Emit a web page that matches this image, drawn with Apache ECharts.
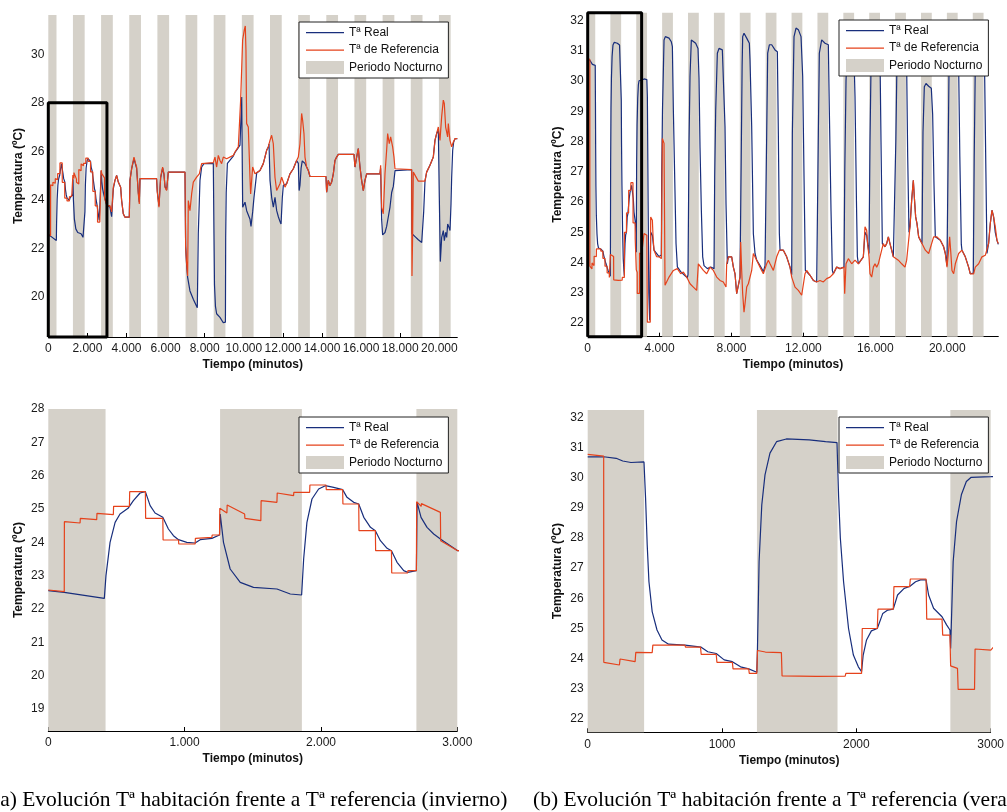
<!DOCTYPE html>
<html>
<head>
<meta charset="utf-8">
<script src="https://cdn.jsdelivr.net/npm/echarts@6/dist/echarts.min.js"></script>
<style>
html,body{margin:0;padding:0;background:#fff;}
#chart{width:1007px;height:812px;}
</style>
</head>
<body>
<div id="chart"></div>
<script>
// Night periods (minutes): 21:00 to 07:00 every day
const nights = [[-180,420],[1260,1860],[2700,3300],[4140,4740],[5580,6180],[7020,7620],[8460,9060],
  [9900,10500],[11340,11940],[12780,13380],[14220,14820],[15660,16260],[17100,17700],[18540,19140],
  [19980,20580],[21420,22020]];

// Tick values
const winterXTicks = [0,2000,4000,6000,8000,10000,12000,14000,16000,18000,20000];
const summerXTicks = [0,4000,8000,12000,16000,20000];
const detailXTicks = [0,1000,2000,3000];
const winterYTicks = [20,22,24,26,28,30];
const summerYTicks = [22,23,24,25,26,27,28,29,30,31,32];
const detailWinterYTicks = [19,20,21,22,23,24,25,26,27,28];

// Winter: reference temperature [minute, ºC]
const winterRef = [[0,22.57],[117,22.52],[118,24.62],[233,24.58],[235,24.72],[355,24.68],[357,24.87],[477,24.83],[479,25.08],[595,25.08],[597,25.52],[712,25.52],[714,24.72],[840,24.72],[842,24.07],[955,24.07],[957,23.95],[1077,23.95],[1079,24.12],[1200,24.15],[1202,24.22],[1256,24.22],[1258,25.02],[1310,24.88],[1312,25.12],[1440,24.85],[1442,24.72],[1559,24.65],[1561,25.25],[1677,25.2],[1679,25.48],[1799,25.4],[1801,25.5],[1917,25.5],[1919,25.72],[2037,25.72],[2039,25.58],[2159,25.58],[2161,25.15],[2277,25.15],[2279,24.35],[2399,24.35],[2401,23.75],[2517,23.75],[2519,23.08],[2636,23.08],[2638,23.15],[2700,23.15],[2702,25.22],[2735,25.08],[2737,25.16],[2876,24.9],[2878,24.05],[3003,23.75],
  [3154,23.76],[3240,23.5],[3325,24.52],[3410,24.8],[3495,25.0],[3580,24.73],[3700,24.52],[3751,23.97],[3836,23.42],[3921,23.28],[4143,23.28],[4177,24.8],[4263,25.28],[4382,25.76],[4467,25.49],[4518,25.35],[4604,24.24],[4655,23.83],[4689,24.87],[5541,24.87],[5575,24.31],[5661,23.69],[5746,24.93],[5848,25.35],[5916,25.07],[5968,24.52],[6053,24.38],[6138,25.14],[6991,25.14],[7025,22.04],[7076,21.35],[7127,20.86],[7161,23.97],[7246,23.55],[7332,24.24],[7417,24.73],[7587,24.93],[7724,25.07],[7843,25.49],[8440,25.53],[8525,25.76],[8610,25.35],[8696,25.83],[8781,25.62],[8866,25.49],[8951,25.76],[9122,25.69],[9463,25.83],[9548,25.97],[9719,26.18],[9804,26.25],[9838,28.11],[9940,30.59],[10025,31.01],[10076,31.17],[10110,30.18],[10145,27.14],[10230,27.0],[10315,24.93],[10349,24.24],[10452,25.35],[10571,25.07],[10656,25.14],[10827,25.21],[10997,25.49],[11082,25.76],[11168,26.04],[11253,26.18],[11338,26.45],[11424,26.66],[11509,26.31],[11594,24.93],[11679,24.38],[11765,24.31],[11850,24.66],[11935,24.93],[12020,24.73],[12106,24.52],[12191,24.66],[12361,25.07],[12532,25.28],[12702,25.62],[12788,25.76],[12873,26.31],[12958,27.56],[13009,27.28],[13077,26.73],[13129,25.76],[13214,25.35],[13299,25.21],[13384,24.96],[14203,24.96],[14237,24.31],[14322,24.8],[14407,24.59],[14493,24.73],[14578,25.07],[14663,25.62],[14748,25.76],[14834,25.87],[15635,25.87],[15686,25.35],[15771,25.76],[15857,26.11],[15942,25.35],[16027,24.8],[16112,24.38],[16198,24.8],[16283,25.07],[16965,25.07],[16999,25.42],[17050,23.69],[17135,23.42],[17221,25.07],[17306,26.04],[17357,26.73],[17442,26.31],[17510,26.59],[17613,26.18],[17681,25.76],[17732,25.28],[18585,25.24],[18602,20.86],[18636,22.59],[18670,25.14],[18755,25.07],[18926,24.77],[19267,24.77],[19352,25.14],[19522,25.42],[19693,25.76],[19778,26.45],[19863,26.73],[19949,27.0],[20034,26.45],[20119,27.42],[20204,28.11],[20255,27.97],[20324,27.0],[20426,26.59],[20460,27.14],[20545,26.45],[20631,26.18],[20716,26.38],[20801,26.52],[20920,26.52]];

// Winter: measured room temperature [minute, ºC]
const winterReal = [[0,22.55],[117,22.5],[411,22.32],[423,23.0],[453,24.0],[490,24.6],[526,24.85],[585,25.02],[597,25.08],[624,25.25],[673,25.48],[712,25.52],[747,25.1],[783,24.88],[840,24.75],[881,24.4],[918,24.2],[955,24.08],[1016,24.0],[1077,23.98],[1114,24.08],[1200,24.12],[1256,24.22],[1261,24.85],[1285,24.0],[1334,23.2],[1408,22.8],[1505,22.65],[1677,22.6],[1775,22.45],[1858,22.42],[1873,23.5],[1897,24.6],[1934,25.3],[1983,25.6],[2032,25.7],[2093,25.65],[2159,25.58],[2191,25.35],[2240,25.2],[2277,25.15],[2314,24.75],[2363,24.45],[2399,24.35],[2436,24.05],[2485,23.82],[2517,23.75],[2558,23.4],[2607,23.15],[2636,23.1],[2700,23.15],[2705,25.2],[2734,24.75],[2778,24.45],[2827,24.25],[2876,24.1],[2900,24.03],[3003,23.75],
  [3154,23.7],[3240,23.3],[3325,24.45],[3410,24.8],[3495,25.0],[3580,24.73],[3700,24.52],[3751,23.97],[3836,23.42],[3921,23.28],[4143,23.28],[4177,24.8],[4263,25.28],[4382,25.7],[4467,25.45],[4518,25.3],[4604,24.3],[4655,23.9],[4689,24.87],[5541,24.87],[5575,24.35],[5661,23.75],[5746,24.9],[5848,25.3],[5916,25.05],[5968,24.55],[6053,24.4],[6138,25.14],[6991,25.14],[7025,22.1],[7076,21.3],[7127,20.8],[7246,20.24],[7417,19.9],[7621,19.55],[7672,22.6],[7758,24.8],[7843,25.35],[7963,25.49],[8440,25.5],[8474,22.6],[8500,20.5],[8550,19.6],[8610,19.3],[8700,19.25],[8781,19.15],[8866,19.1],[8951,18.93],[9037,19.0],[9060,18.95],[9073,22.45],[9100,24.3],[9160,25.5],[9463,25.8],[9548,25.95],[9719,26.15],[9804,26.25],[9892,28.24],[9943,23.69],[10061,23.9],[10146,23.55],[10231,23.6],[10317,23.2],[10368,22.9],[10453,23.5],[10521,24.1],[10658,25.1],[10827,25.21],[10997,25.49],[11082,25.76],[11168,26.04],[11253,26.18],[11290,26.3],[11340,24.8],[11425,24.1],[11510,23.7],[11596,24.1],[11682,23.55],[11767,23.3],[11852,23.1],[11903,23.0],[11971,24.1],[12022,24.6],[12106,24.52],[12191,24.66],[12361,25.07],[12532,25.28],[12702,25.62],[12788,25.5],[12830,24.38],[12873,24.6],[12930,25.3],[12990,25.6],[13077,25.6],[13129,25.5],[13214,25.35],[13299,25.21],[13384,24.96],[14203,24.96],[14237,24.31],[14322,24.8],[14407,24.59],[14493,24.73],[14578,25.07],[14663,25.62],[14748,25.76],[14834,25.87],[15635,25.87],[15686,25.35],[15771,25.76],[15857,26.11],[15942,25.35],[16027,24.8],[16112,24.38],[16198,24.8],[16283,25.07],[16965,25.07],[16999,25.3],[17050,23.2],[17100,22.55],[17135,22.5],[17222,22.65],[17307,22.9],[17392,23.3],[17478,23.7],[17563,24.3],[17648,24.55],[17734,25.2],[18585,25.24],[18602,22.6],[18672,22.52],[18800,22.45],[18926,22.35],[19099,22.24],[19150,22.17],[19200,23.5],[19267,24.77],[19352,25.14],[19522,25.42],[19693,25.76],[19778,26.45],[19863,26.73],[19949,26.9],[20000,24.1],[20052,21.45],[20121,22.45],[20206,22.73],[20257,22.31],[20326,22.66],[20377,22.45],[20428,23.0],[20496,22.86],[20547,22.73],[20598,23.83],[20632,24.93],[20683,26.03],[20734,26.38],[20803,26.52],[20920,26.52]];

// Summer: reference temperature [minute, ºC]
const summerRef = [[0,30.77],[119,30.71],[120,23.88],[236,23.79],[241,23.99],[353,23.9],[358,24.21],[480,24.2],[485,24.45],[724,24.45],[728,24.38],[840,24.38],[845,24.14],[957,24.14],[962,23.88],[1077,23.88],[1082,23.66],[1199,23.66],[1203,23.51],[1259,23.51],[1264,24.27],[1323,24.22],[1442,24.2],[1447,23.43],[1700,23.41],[1917,23.42],[1922,23.51],[2039,23.51],[2044,25.0],[2156,25.0],[2161,25.64],[2275,25.64],[2280,26.39],[2397,26.39],[2402,26.64],[2519,26.64],[2524,25.31],[2638,25.31],[2643,24.78],[2697,24.78],[2702,23.76],[2753,23.68],[2758,22.98],[2880,22.98],[2884,24.32],[3001,24.28],
  [3133,24.96],[3290,24.9],[3319,22.03],[3480,22.03],[3504,25.51],[3597,25.4],[3640,24.8],[3689,24.41],[3830,24.2],[3968,24.19],[4097,24.13],[4153,28.1],[4246,27.94],[4301,23.25],[4394,23.19],[4524,23.52],[4765,23.74],[4987,23.8],[5043,23.85],[5173,23.63],[5321,23.69],[5506,23.52],[5692,23.3],[5877,23.19],[6063,23.08],[6155,23.96],[6248,24.02],[6433,23.74],[6619,23.63],[6804,23.85],[6990,23.74],[7175,23.52],[7360,23.41],[7546,23.36],[7694,23.19],[7731,23.96],[7824,24.19],[8009,24.19],[8102,23.85],[8195,23.63],[8287,22.97],[8380,22.97],[8473,23.52],[8510,24.68],[8565,23.74],[8621,22.97],[8695,22.36],[8751,22.64],[8844,23.19],[8936,23.3],[9122,23.74],[9214,24.3],[9307,24.3],[9400,24.08],[9585,23.85],[9771,23.63],[9957,23.96],[10049,24.08],[10142,23.96],[10327,23.74],[10513,24.19],[10661,24.41],[10883,24.41],[11068,24.19],[11254,23.85],[11347,23.52],[11532,23.19],[11718,23.08],[11903,22.92],[12088,23.63],[12181,23.74],[12366,23.58],[12552,23.41],[12737,23.36],[12922,23.41],[13108,23.36],[13293,23.47],[13478,23.52],[13664,23.63],[13849,23.85],[14034,23.8],[14257,23.85],[14295,22.97],[14369,23.96],[14499,24.13],[14684,23.96],[14869,24.08],[15055,23.96],[15333,24.19],[15425,25.18],[15518,25.07],[15574,24.63],[15648,24.19],[15703,23.63],[15796,23.52],[15889,23.85],[15981,23.96],[16074,23.85],[16167,23.96],[16260,24.19],[16352,24.41],[16445,24.63],[16537,24.52],[16630,24.63],[16723,24.85],[16815,24.63],[16908,24.41],[17001,24.19],[17094,24.19],[17279,24.08],[17465,23.96],[17650,23.85],[17742,24.08],[17835,24.63],[17928,25.18],[18021,26.06],[18113,26.72],[18169,26.17],[18243,25.51],[18317,25.29],[18410,24.85],[18595,24.63],[18781,24.41],[18966,24.3],[19244,24.85],[19429,24.85],[19614,24.74],[19800,24.52],[19893,24.3],[19985,23.85],[20078,24.41],[20134,24.85],[20189,24.41],[20263,23.74],[20356,23.63],[20449,23.96],[20634,24.3],[20819,24.41],[21004,24.19],[21189,23.85],[21282,23.63],[21375,23.58],[21467,23.63],[21560,23.85],[21746,23.96],[21931,24.19],[22116,24.24],[22301,24.63],[22394,25.29],[22487,25.73],[22579,25.51],[22672,25.18],[22765,24.74],[22840,24.63]];

// Summer: measured room temperature [minute, ºC]
const summerReal = [[0,30.69],[119,30.69],[212,30.64],[261,30.55],[322,30.5],[419,30.52],[431,29.31],[443,27.77],[456,26.55],[480,25.56],[516,24.95],[553,24.62],[602,24.48],[724,24.45],[845,24.38],[894,24.23],[957,24.17],[1016,23.96],[1077,23.9],[1138,23.73],[1199,23.66],[1259,23.55],[1264,24.34],[1276,27.22],[1296,29.09],[1320,30.09],[1357,30.81],[1406,31.19],[1479,31.28],[1649,31.25],[1771,31.19],[1856,31.16],[1868,29.37],[1881,27.99],[1905,26.55],[1942,25.0],[1978,24.12],[2015,23.73],[2039,23.57],[2051,24.12],[2076,24.62],[2112,24.92],[2156,25.0],[2197,25.5],[2234,25.61],[2275,25.64],[2307,26.11],[2356,26.33],[2397,26.39],[2441,26.55],[2478,26.61],[2519,26.61],[2538,26.11],[2575,25.67],[2638,25.39],[2672,25.12],[2697,24.95],[2702,24.34],[2721,27.22],[2746,28.54],[2782,29.43],[2819,29.87],[2855,30.01],[3001,30.03],
  [3133,30.07],[3290,30.05],[3319,29.5],[3360,26.0],[3400,23.0],[3448,22.09],[3504,25.0],[3597,24.9],[3689,24.41],[3968,24.2],[4097,24.25],[4115,26.83],[4160,29.04],[4246,31.36],[4320,31.47],[4524,31.42],[4650,31.3],[4710,31.14],[4765,29.04],[4839,26.83],[4913,24.63],[4987,23.86],[5173,23.7],[5358,23.6],[5543,23.5],[5580,23.6],[5636,27.94],[5691,30.15],[5765,31.36],[5821,31.42],[6006,31.25],[6136,31.08],[6192,30.1],[6248,27.8],[6322,25.73],[6396,24.19],[6470,23.9],[6656,23.8],[6841,23.85],[7027,23.8],[7064,26.83],[7120,29.04],[7212,30.92],[7305,31.08],[7490,31.03],[7583,31.08],[7638,28.49],[7694,25.94],[7768,23.96],[7824,24.19],[8009,24.19],[8102,23.85],[8195,23.63],[8287,22.97],[8380,22.97],[8473,23.52],[8540,27.5],[8590,30.5],[8621,31.47],[8695,31.58],[8844,31.42],[8992,31.25],[9029,30.7],[9122,28.49],[9214,24.96],[9307,24.3],[9400,24.08],[9585,23.9],[9771,23.7],[9864,23.9],[9957,28.27],[10012,30.92],[10105,31.2],[10235,31.2],[10420,31.03],[10550,30.97],[10605,28.27],[10661,24.96],[10700,24.41],[10883,24.41],[11068,24.19],[11254,23.85],[11347,23.6],[11384,28.27],[11477,31.47],[11588,31.75],[11718,31.7],[11866,31.47],[11959,30.15],[12033,26.83],[12107,23.74],[12181,23.74],[12366,23.58],[12552,23.41],[12737,23.36],[12774,23.4],[12830,28.27],[12885,30.92],[13015,31.36],[13200,31.25],[13386,31.2],[13441,29.04],[13534,25.73],[13608,23.74],[13664,23.63],[13849,23.85],[14034,23.8],[14257,23.85],[14300,27.0],[14369,30.0],[14450,31.2],[14600,31.3],[14800,31.1],[14869,29.5],[14950,26.0],[15000,24.2],[15055,23.96],[15333,24.19],[15425,25.0],[15518,24.9],[15574,24.6],[15648,24.3],[15703,28.0],[15760,30.5],[15850,31.2],[16100,31.1],[16260,30.8],[16315,28.0],[16389,24.63],[16445,24.63],[16537,24.52],[16630,24.63],[16723,24.85],[16815,24.63],[16908,24.41],[17001,24.19],[17094,24.19],[17140,28.0],[17200,30.5],[17300,31.0],[17600,30.9],[17742,30.5],[17800,27.5],[17872,25.0],[17928,25.2],[18021,26.06],[18113,26.72],[18169,26.17],[18243,25.51],[18317,25.29],[18410,24.85],[18595,24.63],[18651,28.3],[18725,29.81],[18818,29.92],[18966,29.83],[19114,29.76],[19188,28.9],[19262,26.6],[19336,24.85],[19429,24.85],[19614,24.74],[19800,24.52],[19893,24.3],[19985,23.9],[20041,27.0],[20100,30.5],[20200,31.2],[20500,31.0],[20634,30.5],[20700,27.5],[20782,24.6],[20819,24.41],[21004,24.19],[21189,23.85],[21282,23.63],[21375,23.58],[21449,23.65],[21500,27.5],[21560,30.5],[21650,31.2],[22000,31.0],[22079,30.3],[22150,27.0],[22209,24.3],[22301,24.63],[22394,25.29],[22487,25.73],[22579,25.51],[22672,25.0],[22765,24.74],[22840,24.6]];

const captionA = '(a) Evolución Tª habitación frente a Tª referencia (invierno)';
const captionB = '(b) Evolución Tª habitación frente a Tª referencia (verano)';

const BLUE = '#182e7c';
const RED = '#e5421b';
const BAND = '#d5d1c9';
const FONT = '"Liberation Sans", Arial, sans-serif';
const SERIF = '21.5px "Liberation Serif", "Times New Roman", serif';
// Legend sample: a thin horizontal stroke centred in a 38x13 box
const LINE_ICON = 'path://M0,0 M38,13 M0,6 L38,6 L38,7.2 L0,7.2 Z';

function dotThousands(v) {
  if (v < 1000) return String(v);
  return Math.floor(v / 1000) + '.' + String(v % 1000).padStart(3, '0');
}

const panels = [
  {grid:{left:48.3, top:15, width:409, height:322}, xMax:20920, yMin:18.34, yMax:31.62,
   xTicks:winterXTicks, yTicks:winterYTicks, fmt:dotThousands, real:winterReal, ref:winterRef,
   box:[[0,18.34],[0,28],[3000,28],[3000,18.34],[0,18.34]], legend:{left:299, top:22}},
  {grid:{left:587.7, top:12.7, width:410.6, height:324}, xMax:22840, yMin:21.55, yMax:32.26,
   xTicks:summerXTicks, yTicks:summerYTicks, fmt:dotThousands, real:summerReal, ref:summerRef,
   box:[[0,21.55],[0,32.26],[3000,32.26],[3000,21.55],[0,21.55]], legend:{left:839, top:20}},
  {grid:{left:48.3, top:409, width:409, height:322}, xMax:3000, yMin:18.34, yMax:28,
   xTicks:detailXTicks, yTicks:detailWinterYTicks, fmt:dotThousands, real:winterReal, ref:winterRef,
   box:null, legend:{left:299, top:417}},
  {grid:{left:587.7, top:410, width:410.6, height:322.3}, xMax:3000, yMin:21.56, yMax:32.24,
   xTicks:detailXTicks, yTicks:summerYTicks, fmt:String, real:summerReal, ref:summerRef,
   box:null, legend:{left:839, top:417}}
];

const option = {
  animation: false,
  backgroundColor: '#fff',
  grid: [], xAxis: [], yAxis: [], series: [], legend: [],
  graphic: [
    {type:'text', x:-7, y:800, style:{text:captionA, font:SERIF, fill:'#000', textAlign:'left', textVerticalAlign:'middle'}},
    {type:'text', x:533, y:800, style:{text:captionB, font:SERIF, fill:'#000', textAlign:'left', textVerticalAlign:'middle'}}
  ]
};

panels.forEach(function (p, i) {
  option.grid.push(Object.assign({containLabel:false}, p.grid));
  option.xAxis.push({
    type:'value', gridIndex:i, min:0, max:p.xMax,
    axisLine:{show:true, onZero:false, lineStyle:{color:'#000', width:1}},
    axisTick:{show:true, inside:true, length:4, customValues:p.xTicks, lineStyle:{color:'#000'}},
    axisLabel:{customValues:p.xTicks, formatter:p.fmt, fontSize:12, color:'#1a1a1a', margin:6, fontFamily:FONT},
    splitLine:{show:false},
    name:'Tiempo (minutos)', nameLocation:'middle', nameGap:22,
    nameTextStyle:{fontWeight:'bold', fontSize:12, color:'#111', fontFamily:FONT}
  });
  option.yAxis.push({
    type:'value', gridIndex:i, min:p.yMin, max:p.yMax,
    axisLine:{show:false}, axisTick:{show:false},
    axisLabel:{customValues:p.yTicks, fontSize:12, color:'#1a1a1a', margin:4, fontFamily:FONT},
    splitLine:{show:false},
    name:'Temperatura (ºC)', nameLocation:'middle', nameGap:24, nameRotate:90,
    nameTextStyle:{fontWeight:'bold', fontSize:12, color:'#111', fontFamily:FONT}
  });
  const bands = nights.filter(function (n) { return n[0] < p.xMax; })
    .map(function (n) { return [Math.max(0, n[0]), Math.min(p.xMax, n[1]), 0]; });
  option.series.push({
    type:'custom', name:'Periodo Nocturno', xAxisIndex:i, yAxisIndex:i, z:1, silent:true,
    itemStyle:{color:BAND}, encode:{x:[0,1], y:2}, data:bands,
    renderItem:function (params, api) {
      const a = api.coord([api.value(0), p.yMax]);
      const b = api.coord([api.value(1), p.yMin]);
      return {type:'rect', shape:{x:a[0], y:a[1], width:b[0]-a[0], height:b[1]-a[1]}, style:{fill:BAND}};
    }
  });
  option.series.push({
    type:'line', name:'Tª Real', xAxisIndex:i, yAxisIndex:i, z:3, data:p.real,
    symbol:'none', clip:true, lineStyle:{color:BLUE, width:1.2}, itemStyle:{color:BLUE}
  });
  option.series.push({
    type:'line', name:'Tª de Referencia', xAxisIndex:i, yAxisIndex:i, z:4, data:p.ref,
    symbol:'none', clip:true, lineStyle:{color:RED, width:1.2}, itemStyle:{color:RED}
  });
  if (p.box) {
    option.series.push({
      type:'line', name:'detalle', xAxisIndex:i, yAxisIndex:i, z:5, data:p.box, silent:true,
      symbol:'none', clip:false, lineStyle:{color:'#000', width:3}
    });
  }
  option.legend.push({
    orient:'vertical', left:p.legend.left, top:p.legend.top,
    itemWidth:38, itemHeight:13, itemGap:4.5, padding:[4,6,4,7],
    borderColor:'#222', borderWidth:1, backgroundColor:'#fff', selectedMode:false,
    textStyle:{fontSize:12, color:'#111', fontFamily:FONT},
    data:[
      {name:'Tª Real', icon:LINE_ICON, itemStyle:{color:BLUE}},
      {name:'Tª de Referencia', icon:LINE_ICON, itemStyle:{color:RED}},
      {name:'Periodo Nocturno', icon:'rect', itemStyle:{color:BAND}}
    ]
  });
});

const chart = echarts.init(document.getElementById('chart'), null, {renderer:'canvas'});
chart.setOption(option);
</script>
</body>
</html>
